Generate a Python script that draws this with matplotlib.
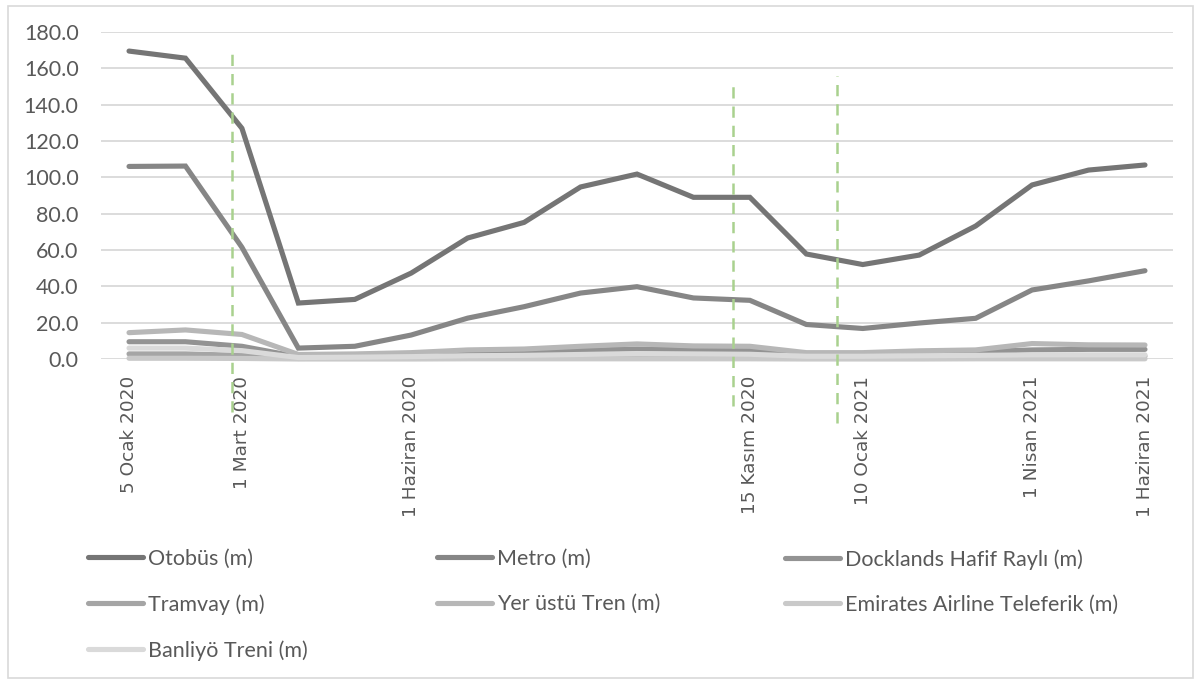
import matplotlib
matplotlib.use('Agg')
import matplotlib.pyplot as plt
from matplotlib.lines import Line2D
from matplotlib.patches import Rectangle

# kategori etiketleri (19 hafta, sadece bazilari yazili)
etiketler = ['5 Ocak 2020', '', '1 Mart 2020', '', '', '1 Haziran 2020', '', '', '', '', '',
             '15 Kasım 2020', '', '10 Ocak 2021', '', '', '1 Nisan 2021', '', '1 Haziran 2021']

otobus = [169.5, 165.6, 127.0, 30.8, 32.8, 47.3, 66.6, 75.2, 94.7, 101.8, 89.0, 89.0,
          57.8, 52.0, 57.2, 73.2, 95.8, 104.0, 106.8]
metro = [106.0, 106.2, 61.5, 6.0, 7.0, 13.2, 22.5, 28.8, 36.3, 39.8, 33.6, 32.3,
         19.0, 16.8, 19.8, 22.4, 38.0, 43.0, 48.6]
docklands = [9.5, 9.5, 7.0, 1.2, 1.5, 2.5, 3.5, 4.0, 4.8, 5.5, 5.0, 4.8,
             2.5, 2.5, 3.5, 4.0, 5.0, 5.3, 5.3]
tramvay = [2.8, 2.8, 2.0, 0.3, 0.4, 0.6, 0.9, 1.0, 1.2, 1.4, 1.3, 1.2,
           0.8, 0.8, 1.0, 1.1, 1.5, 1.6, 1.6]
yerustu = [14.5, 16.0, 13.5, 2.5, 2.8, 3.5, 5.0, 5.5, 7.0, 8.3, 7.2, 7.0,
           3.5, 3.5, 4.5, 5.0, 8.5, 7.8, 7.7]
teleferik = [0.4, 0.4, 0.3, 0.0, 0.0, 0.0, 0.1, 0.1, 0.1, 0.1, 0.1, 0.1,
             0.0, 0.0, 0.0, 0.1, 0.1, 0.1, 0.1]
banliyo = [6.0, 6.0, 4.6, 0.8, 1.0, 1.3, 1.8, 2.0, 2.5, 3.0, 2.8, 2.6,
           1.5, 1.5, 1.8, 2.0, 2.3, 2.3, 2.3]

seriler = [('Otobüs (m)', otobus, '#757575'),
           ('Metro (m)', metro, '#868686'),
           ('Docklands Hafif Raylı (m)', docklands, '#939393'),
           ('Tramvay (m)', tramvay, '#a5a5a5'),
           ('Yer üstü Tren (m)', yerustu, '#b7b7b7'),
           ('Emirates Airline Teleferik (m)', teleferik, '#c9c9c9'),
           ('Banliyö Treni (m)', banliyo, '#dadada')]

# yesil kesikli cizgiler: (kategori konumu, alt, ust)
kesikli = [(1.83, -29, 172), (10.7, -26, 154), (12.55, -35, 156)]

plt.rcParams['font.family'] = ['Lato', 'DejaVu Sans']
fig = plt.figure(figsize=(12.01, 6.84), dpi=100)
fig.patches.append(Rectangle((8 / 1201, 6 / 684), 1185 / 1201, 672 / 684, transform=fig.transFigure,
                             fill=False, edgecolor='#d9d9d9', linewidth=1.2))

ax = fig.add_axes([100.8 / 1201, 325 / 684, 1072.4 / 1201, 327 / 684])
x = list(range(len(etiketler)))
for ad, deger, renk in seriler:
    ax.plot(x, deger, color=renk, linewidth=3.7, solid_capstyle='round',
            solid_joinstyle='miter', label=ad, clip_on=False)

for xc, y0, y1 in kesikli:
    ax.plot([xc, xc], [y0, y1], color='#a9d18e', linewidth=1.8, linestyle=(0, (4.5, 3.2)),
            clip_on=False, zorder=5)

ax.set_xlim(-0.5, len(etiketler) - 0.5)
ax.set_ylim(0, 180)
ax.set_yticks(range(0, 181, 20))
ax.set_yticklabels(['%.1f' % v for v in range(0, 181, 20)])
ax.set_xticks(x)
ax.set_xticklabels(etiketler, rotation=90, family='DejaVu Sans', fontsize=13.3, color='#595959')
ax.tick_params(axis='x', length=0, pad=12)
ax.tick_params(axis='y', length=0, pad=16, labelsize=15.5, labelcolor='#595959')
ax.grid(axis='y', color='#d9d9d9', linewidth=1.3)
ax.set_axisbelow(True)
for s in ax.spines.values():
    s.set_visible(False)

# lejant: 3 sutun
sutunlar = [[0, 3, 6], [1, 4], [2, 5]]
sol = [88, 437, 785]
for k, idx in enumerate(sutunlar):
    tutamac = [Line2D([0], [0], color=seriler[i][2], linewidth=3.7, solid_capstyle='round') for i in idx]
    yazi = [seriler[i][0] for i in idx]
    lg = fig.legend(tutamac, yazi, loc='upper left', bbox_to_anchor=(sol[k] / 1201, 1 - 549 / 684),
                    frameon=False, fontsize=15.5, handlelength=2.55, handletextpad=0.23,
                    labelspacing=1.17, borderpad=0, borderaxespad=0)
    for t in lg.get_texts():
        t.set_color('#595959')

fig.savefig('out.png', dpi=100)
